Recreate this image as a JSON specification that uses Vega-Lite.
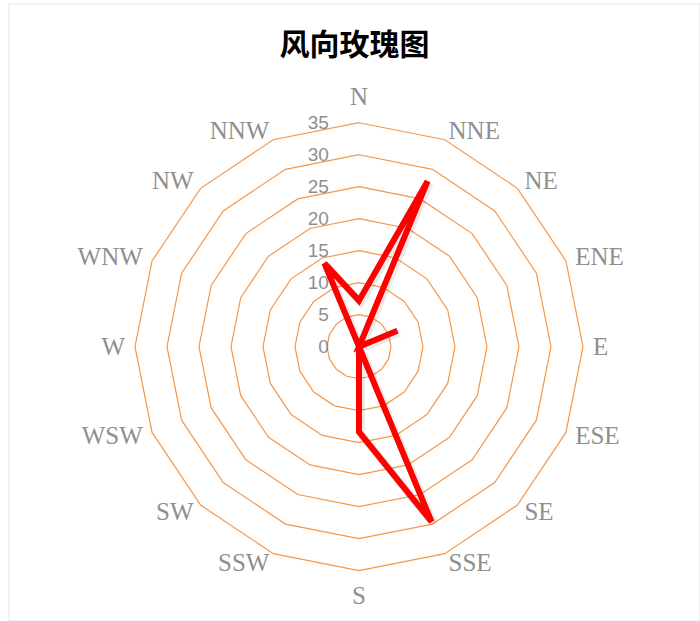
{
  "$schema": "https://vega.github.io/schema/vega-lite/v6.json",
  "autosize": "none",
  "width": 691,
  "height": 617,
  "padding": {"left": 9, "top": 4, "right": 0, "bottom": 0},
  "background": "white",
  "config": {"view": {"stroke": "#eeeeee", "strokeWidth": 1.5}},
  "title": {
    "text": "风向玫瑰图",
    "font": "Noto Sans CJK SC",
    "fontSize": 30,
    "fontWeight": "bold",
    "color": "#000000",
    "anchor": "middle",
    "orient": "top",
    "baseline": "middle",
    "offset": -41,
    "dy": 31
  },
  "datasets": {
    "wind": [
      {"dir": "N", "i": 0, "v": 7.2},
      {"dir": "NNE", "i": 1, "v": 28},
      {"dir": "NE", "i": 2, "v": 0},
      {"dir": "ENE", "i": 3, "v": 6.5},
      {"dir": "E", "i": 4, "v": 0},
      {"dir": "ESE", "i": 5, "v": 0},
      {"dir": "SE", "i": 6, "v": 0},
      {"dir": "SSE", "i": 7, "v": 29.6},
      {"dir": "S", "i": 8, "v": 13.3},
      {"dir": "SSW", "i": 9, "v": 0},
      {"dir": "SW", "i": 10, "v": 0},
      {"dir": "WSW", "i": 11, "v": 0},
      {"dir": "W", "i": 12, "v": 0},
      {"dir": "WNW", "i": 13, "v": 0},
      {"dir": "NW", "i": 14, "v": 0},
      {"dir": "NNW", "i": 15, "v": 14.1}
    ],
    "rings": [
      {"level": 5, "i": [0,1,2,3,4,5,6,7,8,9,10,11,12,13,14,15]},
      {"level": 10, "i": [0,1,2,3,4,5,6,7,8,9,10,11,12,13,14,15]},
      {"level": 15, "i": [0,1,2,3,4,5,6,7,8,9,10,11,12,13,14,15]},
      {"level": 20, "i": [0,1,2,3,4,5,6,7,8,9,10,11,12,13,14,15]},
      {"level": 25, "i": [0,1,2,3,4,5,6,7,8,9,10,11,12,13,14,15]},
      {"level": 30, "i": [0,1,2,3,4,5,6,7,8,9,10,11,12,13,14,15]},
      {"level": 35, "i": [0,1,2,3,4,5,6,7,8,9,10,11,12,13,14,15]}
    ],
    "ticks": [
      {"t": 0}, {"t": 5}, {"t": 10}, {"t": 15}, {"t": 20}, {"t": 25}, {"t": 30}, {"t": 35}
    ]
  },
  "layer": [
    {
      "data": {"name": "rings"},
      "transform": [
        {"flatten": ["i"]},
        {"calculate": "datum.i * PI / 8", "as": "a"},
        {"calculate": "datum.level * sin(datum.a)", "as": "x"},
        {"calculate": "datum.level * cos(datum.a)", "as": "y"}
      ],
      "mark": {"type": "line", "interpolate": "linear-closed", "stroke": "#F79646", "strokeWidth": 1.2},
      "encoding": {
        "x": {"field": "x", "type": "quantitative", "scale": {"domain": [-54.6875, 53.28125], "nice": false, "zero": false}, "axis": null},
        "y": {"field": "y", "type": "quantitative", "scale": {"domain": [-42.86, 53.55], "nice": false, "zero": false}, "axis": null},
        "detail": {"field": "level", "type": "nominal"},
        "order": {"field": "i", "type": "quantitative"}
      }
    },
    {
      "data": {"name": "ticks"},
      "mark": {"type": "text", "align": "right", "baseline": "middle", "font": "Liberation Sans", "fontSize": 19, "color": "#8f8f8f"},
      "encoding": {
        "x": {"datum": -4.7, "type": "quantitative", "scale": {"domain": [-54.6875, 53.28125], "nice": false, "zero": false}, "axis": null},
        "y": {"field": "t", "type": "quantitative", "scale": {"domain": [-42.86, 53.55], "nice": false, "zero": false}, "axis": null},
        "text": {"field": "t", "type": "quantitative"}
      }
    },
    {
      "data": {"name": "wind"},
      "transform": [
        {"filter": "datum.i >= 1 && datum.i <= 7"},
        {"calculate": "datum.i * PI / 8", "as": "a"},
        {"calculate": "36.56 * sin(datum.a)", "as": "lx"},
        {"calculate": "36.56 * cos(datum.a)", "as": "ly"}
      ],
      "mark": {"type": "text", "align": "left", "baseline": "middle", "font": "Liberation Serif", "fontSize": 25, "color": "#8f8f8f"},
      "encoding": {
        "x": {"field": "lx", "type": "quantitative", "scale": {"domain": [-54.6875, 53.28125], "nice": false, "zero": false}, "axis": null},
        "y": {"field": "ly", "type": "quantitative", "scale": {"domain": [-42.86, 53.55], "nice": false, "zero": false}, "axis": null},
        "text": {"field": "dir", "type": "nominal"}
      }
    },
    {
      "data": {"name": "wind"},
      "transform": [
        {"filter": "datum.i >= 9"},
        {"calculate": "datum.i * PI / 8", "as": "a"},
        {"calculate": "36.56 * sin(datum.a)", "as": "lx"},
        {"calculate": "36.56 * cos(datum.a)", "as": "ly"}
      ],
      "mark": {"type": "text", "align": "right", "baseline": "middle", "font": "Liberation Serif", "fontSize": 25, "color": "#8f8f8f"},
      "encoding": {
        "x": {"field": "lx", "type": "quantitative", "scale": {"domain": [-54.6875, 53.28125], "nice": false, "zero": false}, "axis": null},
        "y": {"field": "ly", "type": "quantitative", "scale": {"domain": [-42.86, 53.55], "nice": false, "zero": false}, "axis": null},
        "text": {"field": "dir", "type": "nominal"}
      }
    },
    {
      "data": {"name": "wind"},
      "transform": [
        {"filter": "datum.i == 0 || datum.i == 8"},
        {"calculate": "datum.i * PI / 8", "as": "a"},
        {"calculate": "39 * sin(datum.a)", "as": "lx"},
        {"calculate": "39 * cos(datum.a)", "as": "ly"}
      ],
      "mark": {"type": "text", "align": "center", "baseline": "middle", "font": "Liberation Serif", "fontSize": 25, "color": "#8f8f8f"},
      "encoding": {
        "x": {"field": "lx", "type": "quantitative", "scale": {"domain": [-54.6875, 53.28125], "nice": false, "zero": false}, "axis": null},
        "y": {"field": "ly", "type": "quantitative", "scale": {"domain": [-42.86, 53.55], "nice": false, "zero": false}, "axis": null},
        "text": {"field": "dir", "type": "nominal"}
      }
    },
    {
      "data": {"name": "wind"},
      "transform": [
        {"calculate": "datum.i * PI / 8", "as": "a"},
        {"calculate": "datum.v * sin(datum.a)", "as": "x"},
        {"calculate": "datum.v * cos(datum.a)", "as": "y"}
      ],
      "mark": {"type": "line", "interpolate": "linear-closed", "stroke": "#000000", "strokeOpacity": 0.08, "strokeWidth": 8, "xOffset": 2, "yOffset": 2},
      "encoding": {
        "x": {"field": "x", "type": "quantitative", "scale": {"domain": [-54.6875, 53.28125], "nice": false, "zero": false}, "axis": null},
        "y": {"field": "y", "type": "quantitative", "scale": {"domain": [-42.86, 53.55], "nice": false, "zero": false}, "axis": null},
        "order": {"field": "i", "type": "quantitative"}
      }
    },
    {
      "data": {"name": "wind"},
      "transform": [
        {"calculate": "datum.i * PI / 8", "as": "a"},
        {"calculate": "datum.v * sin(datum.a)", "as": "x"},
        {"calculate": "datum.v * cos(datum.a)", "as": "y"}
      ],
      "mark": {"type": "line", "interpolate": "linear-closed", "stroke": "#FF0000", "strokeWidth": 6, "strokeJoin": "miter"},
      "encoding": {
        "x": {"field": "x", "type": "quantitative", "scale": {"domain": [-54.6875, 53.28125], "nice": false, "zero": false}, "axis": null},
        "y": {"field": "y", "type": "quantitative", "scale": {"domain": [-42.86, 53.55], "nice": false, "zero": false}, "axis": null},
        "order": {"field": "i", "type": "quantitative"}
      }
    }
  ]
}
